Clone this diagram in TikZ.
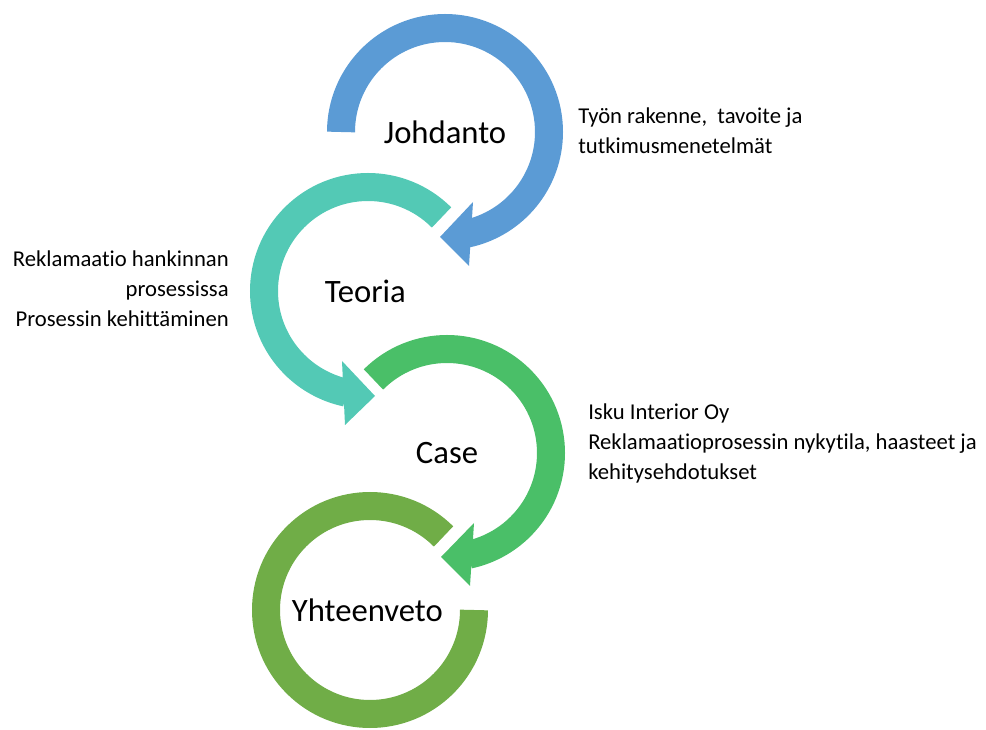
\documentclass[tikz,border=0pt]{standalone}
\usepackage{fontspec}
\setmainfont{Carlito}[Ligatures=NoCommon]
\usetikzlibrary{calc}

\definecolor{ringblue}{HTML}{5B9BD5}
\definecolor{ringteal}{HTML}{53C9B5}
\definecolor{ringgreen}{HTML}{4ABF68}
\definecolor{ringolive}{HTML}{70AD47}

\begin{document}
\begin{tikzpicture}[x=0.75pt, y=0.75pt,
                ring/.style={line width=21pt},
                stagenode/.style={font=\fontsize{24.5}{29}\selectfont},
                infonode/.style={font=\fontsize{17}{22.5}\selectfont, inner sep=0pt},
                ]
                \useasboundingbox (0,0) rectangle (986,729);
                %Centres
                \coordinate (jc) at (445,597);
                \coordinate (tc) at (368,438);
                \coordinate (cc) at (447,276);
                \coordinate (yc) at (370,119);

                %Nodes
                \node[stagenode]      (johdanto)      at (jc)            {Johdanto};
                \node[stagenode]      (teoria)        at ([xshift=-2]tc) {Teoria};
                \node[stagenode]      (case)          at (cc)            {Case};
                \node[stagenode]      (yhteenveto)    at ([xshift=-2]yc) {Yhteenveto};
                \node[infonode, anchor=west, align=left]   (johdantoinfo)   at (578,598)
                        {Työn rakenne,~ tavoite ja\\tutkimusmenetelmät};
                \node[infonode, anchor=east, align=right]  (teoriainfo)     at (229,440)
                        {Reklamaatio hankinnan\\prosessissa\\Prosessin kehittäminen};
                \node[infonode, anchor=west, align=left]   (caseinfo)       at (588,286)
                        {Isku Interior Oy\\Reklamaatioprosessin nykytila, haasteet ja\\kehitysehdotukset};

                %Rings
                \draw[ring, ringblue] ($(jc)+(180:104)$) arc[start angle=180, end angle=-78, radius=104];
                \fill[ringblue] ($(jc)+(28,-70)$) -- ($(jc)+(-5,-105)$) -- ($(jc)+(24,-134)$) -- cycle;

                \draw[ring, ringteal] ($(tc)+(45:104)$) arc[start angle=45, end angle=258, radius=104];
                \fill[ringteal] ($(tc)+(-26,-70)$) -- ($(tc)+(7,-105)$) -- ($(tc)+(-23,-134)$) -- cycle;

                \draw[ring, ringgreen] ($(cc)+(135:104)$) arc[start angle=135, end angle=-78, radius=104];
                \fill[ringgreen] ($(cc)+(27,-70)$) -- ($(cc)+(-6,-104)$) -- ($(cc)+(23,-133)$) -- cycle;

                \draw[ring, ringolive] ($(yc)+(45:104)$) arc[start angle=45, end angle=360, radius=104];
\end{tikzpicture}
\end{document}
